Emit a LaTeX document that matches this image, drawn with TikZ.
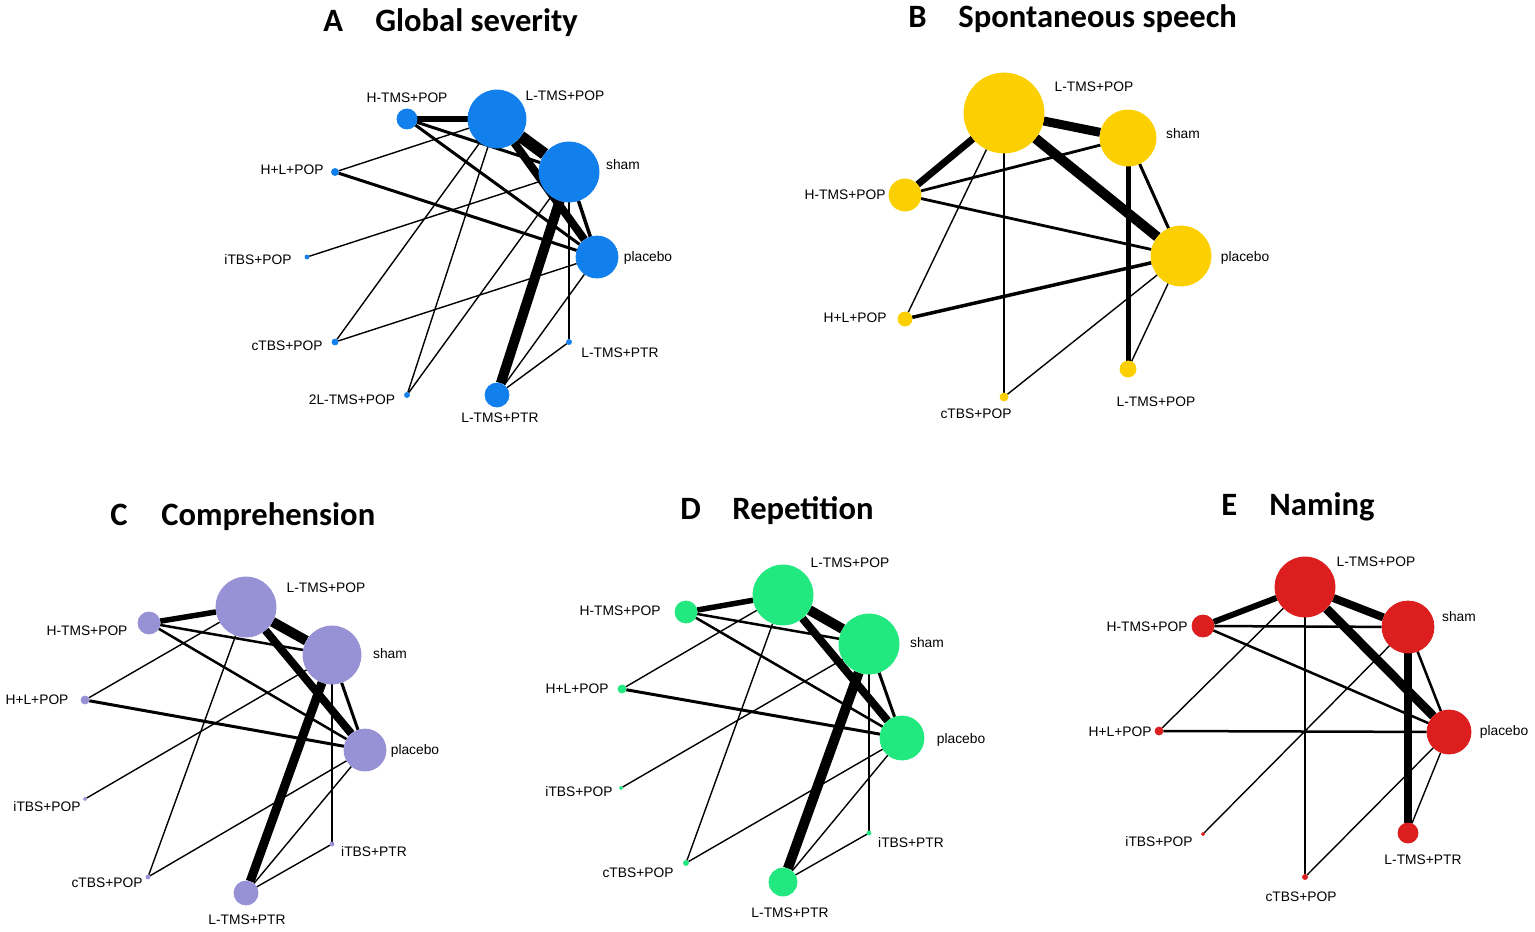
\documentclass[tikz,border=0pt]{standalone}
\usepackage{fontspec}
\setmainfont{Liberation Sans}
\newfontfamily\carlito{Carlito}
\usetikzlibrary{backgrounds}

\definecolor{netA}{RGB}{18,128,236}
\definecolor{netB}{RGB}{252,208,0}
\definecolor{netC}{RGB}{151,145,214}
\definecolor{netD}{RGB}{34,232,128}
\definecolor{netE}{RGB}{220,30,30}

\tikzset{
  trt/.style={circle, inner sep=0pt, fill=#1, draw=#1},
  dia/.style={minimum size=#1*0.5pt},
  lnk/.style={draw=black, line width=#1*0.5pt},
  lbl/.style={font=\fontsize{6.9}{8}\selectfont, inner sep=0pt},
  ttl/.style={font=\carlito\bfseries\fontsize{16.3}{19}\selectfont, inner sep=0pt, anchor=base west},
}

\begin{document}
\begin{tikzpicture}[x=0.5pt, y=-0.5pt]
  \useasboundingbox (0,0) rectangle (1535,931);

  %% titles
  \node[ttl] (tA) at (323,32) {A};
  \node[ttl] (tAx) at (375,32) {Global severity};
  \node[ttl] (tB) at (908,28) {B};
  \node[ttl] (tBx) at (958,28) {Spontaneous speech};
  \node[ttl] (tC) at (110,525) {C};
  \node[ttl] (tCx) at (161,525) {Comprehension};
  \node[ttl] (tD) at (680,519) {D};
  \node[ttl] (tDx) at (732,519) {Repetition};
  \node[ttl] (tE) at (1221,515) {E};
  \node[ttl] (tEx) at (1269,515) {Naming};

  %% A  global severity
  \node[trt=netA, dia=58] (aLP) at (497,119) {};
  \node[trt=netA, dia=60] (aSh) at (569,172) {};
  \node[trt=netA, dia=42] (aPl) at (597,257) {};
  \node[trt=netA, dia=5]  (aLR) at (569,342) {};
  \node[trt=netA, dia=24] (aLT) at (497,395) {};
  \node[trt=netA, dia=5]  (a2L) at (407,395) {};
  \node[trt=netA, dia=6]  (aCT) at (335,342) {};
  \node[trt=netA, dia=4]  (aIT) at (307,257) {};
  \node[trt=netA, dia=7]  (aHL) at (335,172) {};
  \node[trt=netA, dia=20] (aHP) at (407,119) {};

  \node[lbl] (aLPt) at (565,96) {L-TMS+POP};
  \node[lbl] (aSht) at (623,165) {sham};
  \node[lbl] (aPlt) at (648,258) {placebo};
  \node[lbl] (aLRt) at (620,353) {L-TMS+PTR};
  \node[lbl] (aLTt) at (500,418) {L-TMS+PTR};
  \node[lbl] (a2Lt) at (352,400) {2L-TMS+POP};
  \node[lbl] (aCTt) at (287,346) {cTBS+POP};
  \node[lbl] (aITt) at (258,260) {iTBS+POP};
  \node[lbl] (aHLt) at (292,170) {H+L+POP};
  \node[lbl] (aHPt) at (407,98) {H-TMS+POP};

  \begin{scope}[on background layer]
    \draw[lnk=6] (aHP) -- (aLP);
    \draw[lnk=3] (aHP) -- (aSh);
    \draw[lnk=3] (aHP) -- (aPl);
    \draw[lnk=12] (aLP) -- (aSh);
    \draw[lnk=8] (aLP) -- (aPl);
    \draw[lnk=1.4] (aLP) -- (aHL);
    \draw[lnk=1.4] (aLP) -- (aCT);
    \draw[lnk=1.4] (aLP) -- (a2L);
    \draw[lnk=1.4] (aSh) -- (aIT);
    \draw[lnk=1.4] (aSh) -- (a2L);
    \draw[lnk=10] (aSh) -- (aLT);
    \draw[lnk=3.5] (aSh) -- (aPl);
    \draw[lnk=1.4] (aSh) -- (aLR);
    \draw[lnk=3] (aHL) -- (aPl);
    \draw[lnk=1.4] (aPl) -- (aCT);
    \draw[lnk=1.4] (aPl) -- (aLT);
    \draw[lnk=1.4] (aLT) -- (aLR);
  \end{scope}

  %% B  spontaneous speech
  \node[trt=netB, dia=80] (bLP) at (1004,113) {};
  \node[trt=netB, dia=56] (bSh) at (1128,138) {};
  \node[trt=netB, dia=60] (bPl) at (1181,256) {};
  \node[trt=netB, dia=16] (bLL) at (1128,369) {};
  \node[trt=netB, dia=8]  (bCT) at (1004,397) {};
  \node[trt=netB, dia=14] (bHL) at (905,319) {};
  \node[trt=netB, dia=32] (bHP) at (905,195) {};

  \node[lbl] (bLPt) at (1094,87) {L-TMS+POP};
  \node[lbl] (bSht) at (1183,134) {sham};
  \node[lbl] (bPlt) at (1245,258) {placebo};
  \node[lbl] (bLLt) at (1156,402) {L-TMS+POP};
  \node[lbl] (bCTt) at (976,414) {cTBS+POP};
  \node[lbl] (bHLt) at (855,318) {H+L+POP};
  \node[lbl] (bHPt) at (845,195) {H-TMS+POP};

  \begin{scope}[on background layer]
    \draw[lnk=9] (bLP) -- (bSh);
    \draw[lnk=10] (bLP) -- (bPl);
    \draw[lnk=7] (bLP) -- (bHP);
    \draw[lnk=1.4] (bLP) -- (bHL);
    \draw[lnk=1.4] (bLP) -- (bCT);
    \draw[lnk=2.8] (bHP) -- (bSh);
    \draw[lnk=2.8] (bHP) -- (bPl);
    \draw[lnk=3.5] (bHL) -- (bPl);
    \draw[lnk=5] (bSh) -- (bLL);
    \draw[lnk=3] (bSh) -- (bPl);
    \draw[lnk=1.4] (bPl) -- (bLL);
    \draw[lnk=1.4] (bPl) -- (bCT);
  \end{scope}

  %% C  comprehension
  \node[trt=netC, dia=60] (cLP) at (246,607) {};
  \node[trt=netC, dia=58] (cSh) at (332,655) {};
  \node[trt=netC, dia=42] (cPl) at (365,750) {};
  \node[trt=netC, dia=4]  (cIP) at (332,844) {};
  \node[trt=netC, dia=24] (cLT) at (246,893) {};
  \node[trt=netC, dia=4]  (cCT) at (148,877) {};
  \node[trt=netC, dia=3]  (cIT) at (85,799) {};
  \node[trt=netC, dia=8]  (cHL) at (85,700) {};
  \node[trt=netC, dia=22] (cHP) at (149,623) {};

  \node[lbl] (cLPt) at (326,588) {L-TMS+POP};
  \node[lbl] (cSht) at (390,654) {sham};
  \node[lbl] (cPlt) at (415,751) {placebo};
  \node[lbl] (cIPt) at (374,852) {iTBS+PTR};
  \node[lbl] (cLTt) at (247,920) {L-TMS+PTR};
  \node[lbl] (cCTt) at (107,883) {cTBS+POP};
  \node[lbl] (cITt) at (47,807) {iTBS+POP};
  \node[lbl] (cHLt) at (37,700) {H+L+POP};
  \node[lbl] (cHPt) at (87,631) {H-TMS+POP};

  \begin{scope}[on background layer]
    \draw[lnk=5.5] (cHP) -- (cLP);
    \draw[lnk=2.5] (cHP) -- (cSh);
    \draw[lnk=2.5] (cHP) -- (cPl);
    \draw[lnk=10] (cLP) -- (cSh);
    \draw[lnk=8] (cLP) -- (cPl);
    \draw[lnk=1.4] (cLP) -- (cHL);
    \draw[lnk=1.4] (cLP) -- (cCT);
    \draw[lnk=1.4] (cSh) -- (cIT);
    \draw[lnk=9] (cSh) -- (cLT);
    \draw[lnk=3] (cSh) -- (cPl);
    \draw[lnk=1.4] (cSh) -- (cIP);
    \draw[lnk=3] (cHL) -- (cPl);
    \draw[lnk=1.4] (cPl) -- (cCT);
    \draw[lnk=1.4] (cPl) -- (cLT);
    \draw[lnk=1.4] (cLT) -- (cIP);
  \end{scope}

  %% D  repetition
  \node[trt=netD, dia=60] (dLP) at (783,595) {};
  \node[trt=netD, dia=60] (dSh) at (869,644) {};
  \node[trt=netD, dia=44] (dPl) at (902,738) {};
  \node[trt=netD, dia=4]  (dIP) at (869,833) {};
  \node[trt=netD, dia=28] (dLT) at (783,882) {};
  \node[trt=netD, dia=5]  (dCT) at (686,863) {};
  \node[trt=netD, dia=3]  (dIT) at (621,788) {};
  \node[trt=netD, dia=8]  (dHL) at (622,689) {};
  \node[trt=netD, dia=22] (dHP) at (686,612) {};

  \node[lbl] (dLPt) at (850,563) {L-TMS+POP};
  \node[lbl] (dSht) at (927,643) {sham};
  \node[lbl] (dPlt) at (961,740) {placebo};
  \node[lbl] (dIPt) at (911,843) {iTBS+PTR};
  \node[lbl] (dLTt) at (790,913) {L-TMS+PTR};
  \node[lbl] (dCTt) at (638,873) {cTBS+POP};
  \node[lbl] (dITt) at (579,792) {iTBS+POP};
  \node[lbl] (dHLt) at (577,689) {H+L+POP};
  \node[lbl] (dHPt) at (620,611) {H-TMS+POP};

  \begin{scope}[on background layer]
    \draw[lnk=5.5] (dHP) -- (dLP);
    \draw[lnk=2.5] (dHP) -- (dSh);
    \draw[lnk=2.5] (dHP) -- (dPl);
    \draw[lnk=10] (dLP) -- (dSh);
    \draw[lnk=8] (dLP) -- (dPl);
    \draw[lnk=1.4] (dLP) -- (dHL);
    \draw[lnk=1.4] (dLP) -- (dCT);
    \draw[lnk=1.4] (dSh) -- (dIT);
    \draw[lnk=10] (dSh) -- (dLT);
    \draw[lnk=3] (dSh) -- (dPl);
    \draw[lnk=1.4] (dSh) -- (dIP);
    \draw[lnk=3] (dHL) -- (dPl);
    \draw[lnk=1.4] (dPl) -- (dCT);
    \draw[lnk=1.4] (dPl) -- (dLT);
    \draw[lnk=1.4] (dLT) -- (dIP);
  \end{scope}

  %% E  naming
  \node[trt=netE, dia=60] (eLP) at (1305,587) {};
  \node[trt=netE, dia=52] (eSh) at (1408,627) {};
  \node[trt=netE, dia=44] (ePl) at (1449,732) {};
  \node[trt=netE, dia=20] (eLT) at (1408,833) {};
  \node[trt=netE, dia=5]  (eCT) at (1305,877) {};
  \node[trt=netE, dia=3]  (eIT) at (1203,834) {};
  \node[trt=netE, dia=8]  (eHL) at (1159,731) {};
  \node[trt=netE, dia=22] (eHP) at (1203,626) {};

  \node[lbl] (eLPt) at (1376,562) {L-TMS+POP};
  \node[lbl] (eSht) at (1459,617) {sham};
  \node[lbl] (ePlt) at (1504,732) {placebo};
  \node[lbl] (eLTt) at (1423,860) {L-TMS+PTR};
  \node[lbl] (eCTt) at (1301,897) {cTBS+POP};
  \node[lbl] (eITt) at (1159,842) {iTBS+POP};
  \node[lbl] (eHLt) at (1120,732) {H+L+POP};
  \node[lbl] (eHPt) at (1147,627) {H-TMS+POP};

  \begin{scope}[on background layer]
    \draw[lnk=6] (eLP) -- (eHP);
    \draw[lnk=8] (eLP) -- (eSh);
    \draw[lnk=9] (eLP) -- (ePl);
    \draw[lnk=1.4] (eLP) -- (eHL);
    \draw[lnk=1.4] (eLP) -- (eCT);
    \draw[lnk=2.5] (eHP) -- (eSh);
    \draw[lnk=2.5] (eHP) -- (ePl);
    \draw[lnk=2.5] (eHL) -- (ePl);
    \draw[lnk=8] (eSh) -- (eLT);
    \draw[lnk=2.5] (eSh) -- (ePl);
    \draw[lnk=1.4] (eSh) -- (eIT);
    \draw[lnk=1.4] (ePl) -- (eCT);
    \draw[lnk=1.4] (ePl) -- (eLT);
  \end{scope}
\end{tikzpicture}
\end{document}
